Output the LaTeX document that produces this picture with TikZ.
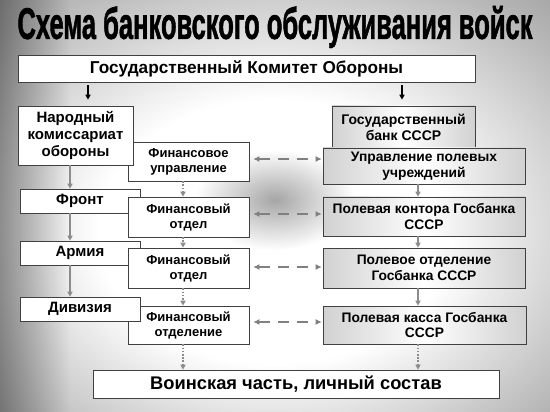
\documentclass[tikz,border=0pt]{standalone}
\usepackage{fontspec}
\setmainfont{Liberation Sans}
\newfontfamily\titlefont[BoldFeatures={FakeBold=1.6}]{Liberation Sans}
\usetikzlibrary{arrows.meta,fadings}
\pgfdeclareradialshading{bgshade}{\pgfpoint{0bp}{-4bp}}{color(0bp)=(white); color(16bp)=(white); color(34bp)=(black!30); color(48bp)=(black!50); color(72bp)=(black!62)}
\tikzfading[name=softblob, inner color=transparent!65, outer color=transparent!100]
\tikzset{
  box/.style={draw=black!75, line width=0.6pt, fill=white, inner sep=1pt, align=center,
    font=\bfseries\fontsize{13}{15}\selectfont},
  rbox/.style={box, left color=black!18, right color=black!18, middle color=white,
    font=\bfseries\fontsize{13.8}{15.5}\selectfont},
  lbox/.style={box, font=\bfseries\fontsize{15}{17}\selectfont},
  topfont/.style={box, font=\bfseries\fontsize{17.2}{19}\selectfont},
  botfont/.style={box, font=\bfseries\fontsize{18.3}{20}\selectfont},
  karr/.style={-{Triangle[length=5pt,width=5pt]}, draw=black, line width=1.3pt},
  garr/.style={-{Triangle[length=5pt,width=5pt]}, draw=black!45, line width=1.4pt},
  darr/.style={-{Triangle[length=5pt,width=5pt]}, draw=black!45, line width=1.6pt, dash pattern=on 1.6pt off 1.6pt},
  harr/.style={{Latex[length=6pt,width=6pt]}-{Latex[length=6pt,width=6pt]}, draw=black!50, line width=1.6pt, dash pattern=on 11pt off 8pt, shorten <=4pt, shorten >=1pt},
  ttl/.style={inner sep=0pt}
}
\begin{document}
\begin{tikzpicture}[x=1pt,y=-1pt]
\useasboundingbox (0,0) rectangle (550,412);
\fill[shading=bgshade] (0,0) rectangle (550,412);
\fill[black, path fading=east, fill opacity=0.35] (0,0) rectangle (70,412);
\fill[black, path fading=softblob] (275,200) ellipse [x radius=80pt, y radius=50pt];
% title
\node[ttl, text=black] (title) at (275,27) {\resizebox*{515pt}{42pt}{\titlefont\bfseries Схема банковского обслуживания войск}};
% top box
\node[topfont, minimum width=457pt, minimum height=27pt] (top) at (246.5,68.5) {Государственный Комитет Обороны};
% fin boxes
\node[box, minimum width=121pt, minimum height=39pt] (fu) at (188.5,161.5) {Финансовое\\управление};
\node[box, minimum width=121pt, minimum height=38pt] (fo3) at (188.5,325) {Финансовый\\отделение};
% left boxes
\node[lbox, minimum width=115pt, minimum height=59pt] (nko) at (75.5,135.5) {Народный\\комиссариат\\обороны};
\node[lbox, minimum width=120pt, minimum height=24pt] (front) at (80,201) {Фронт};
\node[lbox, minimum width=120pt, minimum height=24pt] (army) at (80,253) {Армия};
\node[lbox, minimum width=120pt, minimum height=24pt] (div) at (80,309) {Дивизия};
\node[box, minimum width=121pt, minimum height=40pt] (fo1) at (188.5,217) {Финансовый\\отдел};
\node[box, minimum width=121pt, minimum height=40pt] (fo2) at (188.5,268) {Финансовый\\отдел};
% right boxes
\node[rbox, font=\bfseries\fontsize{14}{16}\selectfont, minimum width=143pt, minimum height=42pt] (gb) at (403.5,127) {Государственный\\банк СССР};
\node[rbox, minimum width=202pt, minimum height=36pt] (upr) at (424,166) {Управление полевых\\учреждений};
\node[rbox, minimum width=202pt, minimum height=39pt] (pk) at (424,216.5) {Полевая контора Госбанка\\СССР};
\node[rbox, minimum width=202pt, minimum height=40pt] (po) at (424,268) {Полевое отделение\\Госбанка СССР};
\node[rbox, minimum width=203pt, minimum height=38pt] (kassa) at (424.5,325) {Полевая касса Госбанка\\СССР};
% bottom
\node[botfont, minimum width=406pt, minimum height=28pt] (bot) at (296,384) {Воинская часть, личный состав};
% helper columns
\coordinate (cA) at (88,0);
\coordinate (cB) at (402,0);
\coordinate (cL) at (70,0);
\coordinate (cM) at (183,0);
\coordinate (cR) at (418,0);
% black arrows
\draw[karr, shorten <=3pt, shorten >=6pt] (top.south -| cA) -- (nko.north -| cA);
\draw[karr, shorten <=3pt, shorten >=6pt] (top.south -| cB) -- (gb.north -| cB);
% left chain
\draw[garr] (nko.south -| cL) -- (front.north -| cL);
\draw[garr] (front.south -| cL) -- (army.north -| cL);
\draw[garr] (army.south -| cL) -- (div.north -| cL);
% middle chain
\draw[darr] (fu.south -| cM) -- (fo1.north -| cM);
\draw[darr] (fo1.south -| cM) -- (fo2.north -| cM);
\draw[darr] (fo2.south -| cM) -- (fo3.north -| cM);
\draw[darr] (fo3.south -| cM) -- (bot.north -| cM);
% right chain
\draw[garr] (upr.south -| cR) -- (pk.north -| cR);
\draw[garr] (pk.south -| cR) -- (po.north -| cR);
\draw[garr] (po.south -| cR) -- (kassa.north -| cR);
\draw[darr] (kassa.south -| cR) -- (bot.north -| cR);
% horizontal dashed
\coordinate (r1) at (0,159);
\coordinate (r2) at (0,214);
\coordinate (r3) at (0,267);
\coordinate (r4) at (0,322);
\draw[harr] (fu.east |- r1) -- (upr.west |- r1);
\draw[harr] (fo1.east |- r2) -- (pk.west |- r2);
\draw[harr] (fo2.east |- r3) -- (po.west |- r3);
\draw[harr] (fo3.east |- r4) -- (kassa.west |- r4);
\end{tikzpicture}
\end{document}
